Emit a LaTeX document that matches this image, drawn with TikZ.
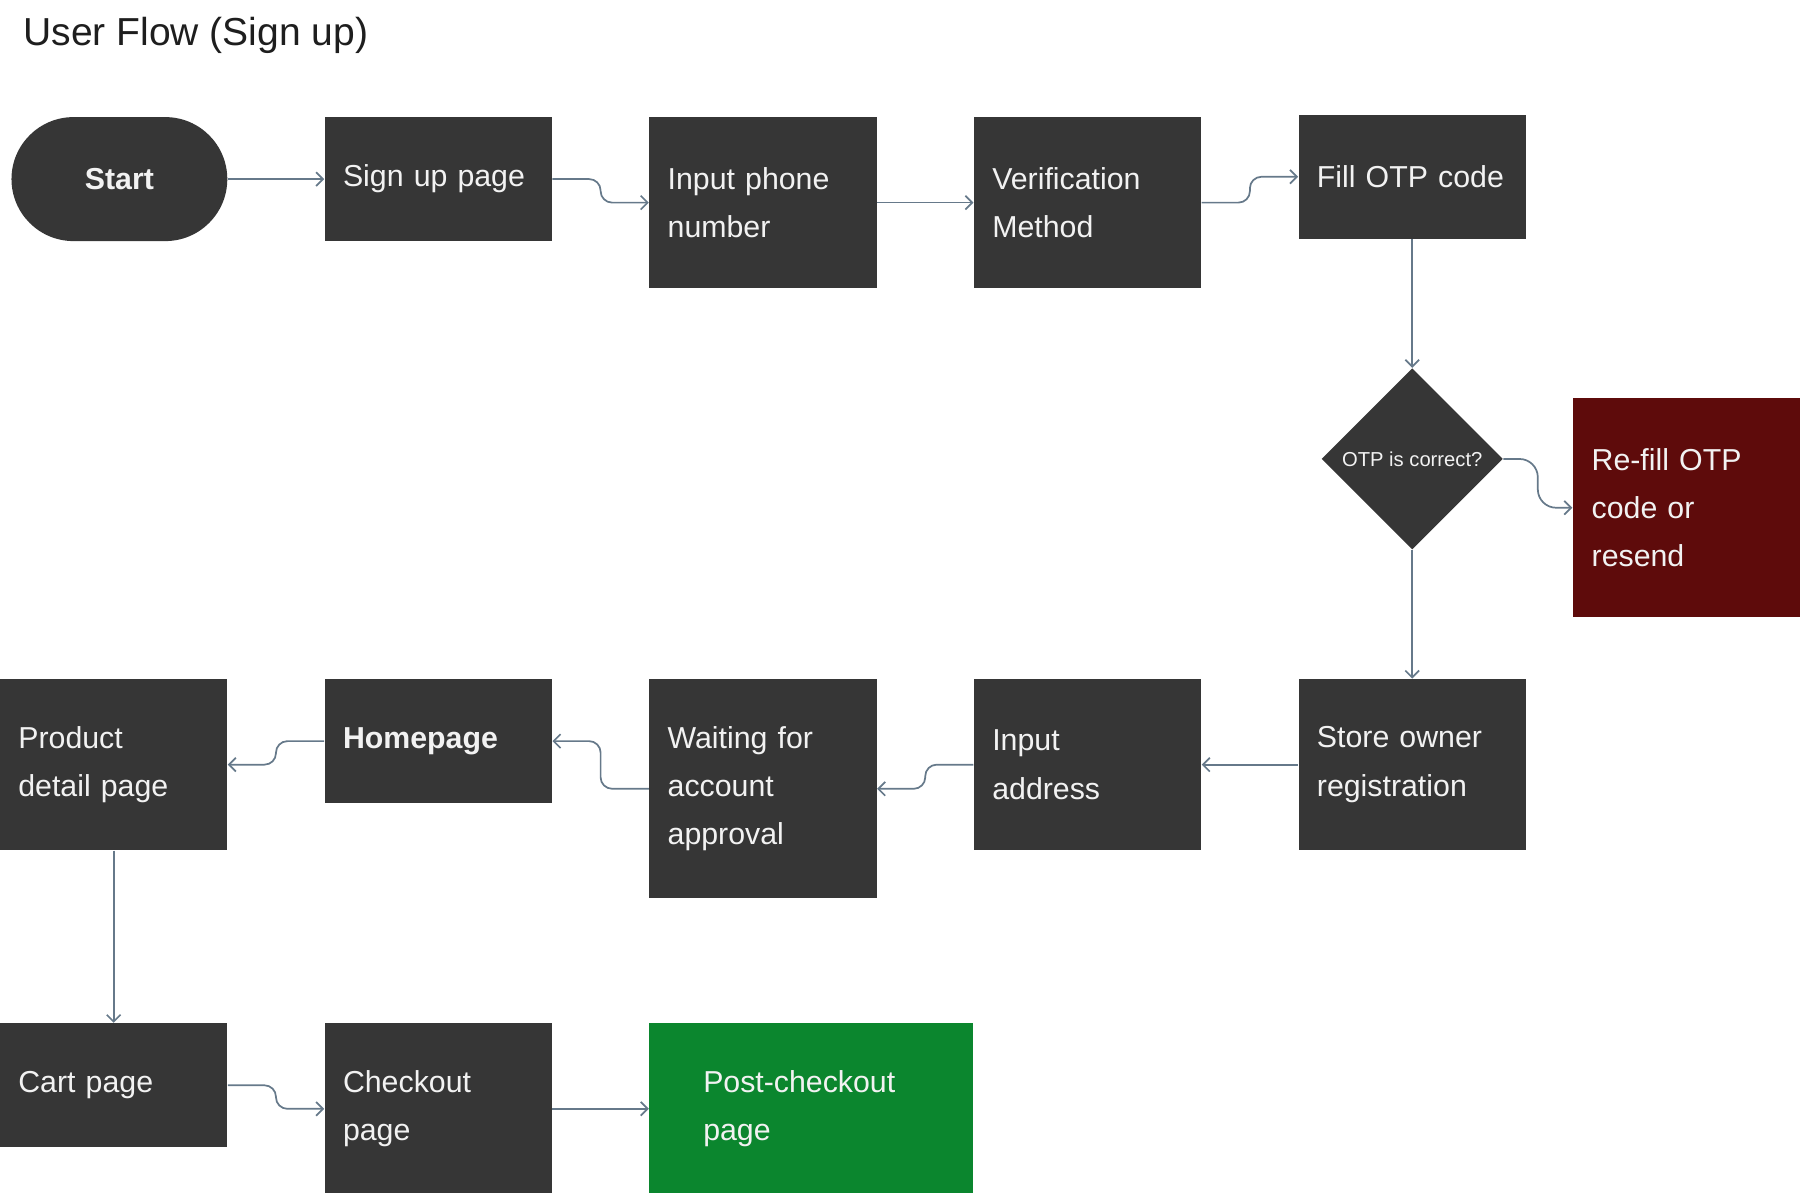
\documentclass[tikz,border=0pt]{standalone}
\usepackage{fontspec}
\setmainfont{Liberation Sans}
\usepackage{xcolor}
\usepackage{tikz}
\usetikzlibrary{positioning,shapes.geometric,arrows.meta,calc}
\definecolor{boxgray}{HTML}{363636}
\definecolor{linkgray}{HTML}{66798A}
\definecolor{failred}{HTML}{5E0B0B}
\definecolor{donegreen}{HTML}{0B862E}
\definecolor{inkwhite}{HTML}{F2F2F2}
\definecolor{titleink}{HTML}{1E1E1E}

\begin{document}
\begin{tikzpicture}[
    x=1pt, y=1pt,
    node distance=42pt and 42pt,
    box/.style={rectangle, fill=boxgray, text=inkwhite, minimum width=99pt, minimum height=54pt, text width=83pt, inner xsep=8pt, inner ysep=0pt, align=left, font=\fontsize{13.2}{21}\selectfont},
    box2/.style={box, minimum height=74.5pt},
    box3/.style={box, minimum height=95.5pt},
    term/.style={rectangle, rounded corners=27pt, fill=boxgray, text=inkwhite, minimum width=94pt, minimum height=54pt, font=\fontsize{13.2}{16}\selectfont\bfseries},
    decision/.style={diamond, aspect=1, fill=boxgray, text=inkwhite, minimum size=79pt, inner sep=0pt, font=\fontsize{8.8}{10}\selectfont},
    refill/.style={box3, fill=failred, minimum width=99.5pt},
    done/.style={box2, fill=donegreen, minimum width=141pt, text width=94pt, inner xsep=23.5pt},
    flow/.style={-{Straight Barb[length=3pt,width=6pt]}, draw=linkgray, line width=0.75pt},
    title/.style={font=\fontsize{17}{20}\selectfont, text=titleink, inner sep=0pt},
]
\useasboundingbox (0,0) rectangle (784,-519.5);
\node[title, anchor=base west] (head) at (10,-20) {User Flow (Sign up)};

% sign up row
\node[term] (start) at (52,-78) {Start};
\node[box, right=of start] (signup) {Sign up page};
\node[box2, right=of signup.north east, anchor=north west] (phone) {Input phone\\number};
\node[box2, right=of phone.north east, anchor=north west] (verify) {Verification\\Method};
\node[box, right=of verify.north east, anchor=north west, yshift=1pt] (otp) {Fill OTP code};
\node[decision, below=56pt of otp] (check) {OTP is correct?};
\node[refill, right=30pt of check, yshift=-21.25pt] (refill) {Re-fill OTP\\code or\\resend};

% registration row, right to left
\node[box2, below=56pt of check] (store) {Store owner\\registration};
\node[box2, left=of store] (address) {Input\\address};
\node[box3, left=of address.north west, anchor=north east] (waiting) {Waiting for\\account\\approval};
\node[box, left=of waiting.north west, anchor=north east] (home) {\textbf{Homepage}};
\node[box2, left=of home.north west, anchor=north east] (product) {Product\\detail page};

% checkout row
\node[box, below=75pt of product] (cart) {Cart page};
\node[box2, right=of cart.north east, anchor=north west] (checkout) {Checkout\\page};
\node[done, right=of checkout.north east, anchor=north west] (post) {Post-checkout\\page};

\draw[flow] (start) -- (signup);
\draw[flow, rounded corners=5pt] (signup.east) -- ++(21,0) |- (phone.west);
\draw[flow] (phone) -- (verify);
\draw[flow, rounded corners=5pt] (verify.east) -- ++(21,0) |- (otp.west);
\draw[flow] (otp) -- (check);
\draw[flow, rounded corners=8pt] (check.east) -- ++(15,0) |- (refill.west);
\draw[flow] (check) -- (store);
\draw[flow] (store) -- (address);
\draw[flow, rounded corners=5pt] (address.west) -- ++(-21,0) |- (waiting.east);
\draw[flow, rounded corners=5pt] (waiting.west) -- ++(-21,0) |- (home.east);
\draw[flow, rounded corners=5pt] (home.west) -- ++(-21,0) |- (product.east);
\draw[flow] (product) -- (cart);
\draw[flow, rounded corners=5pt] (cart.east) -- ++(21,0) |- (checkout.west);
\draw[flow] (checkout) -- (post);
\end{tikzpicture}
\end{document}
